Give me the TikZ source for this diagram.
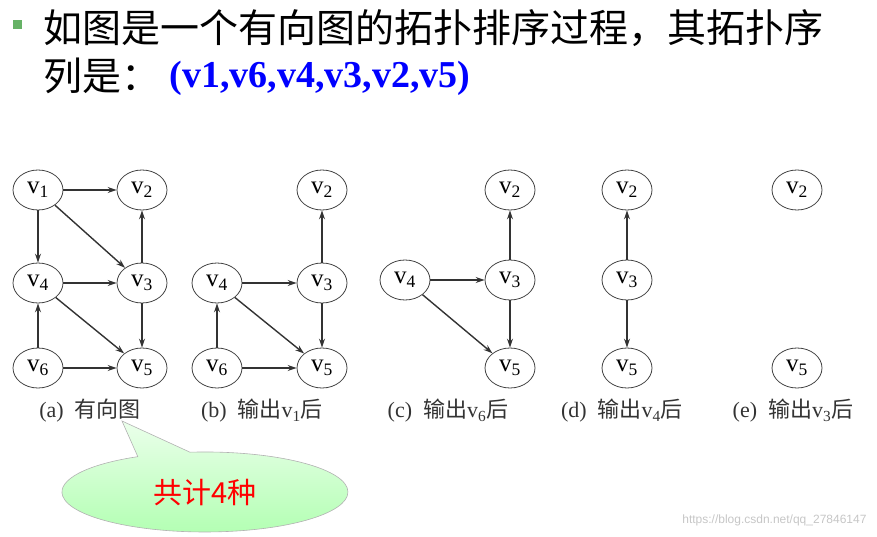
\documentclass[tikz,border=0pt]{standalone}
\usepackage{fontspec}
\setmainfont{Liberation Serif}
\newfontfamily\cjk{Noto Sans CJK SC}
\newfontfamily\wmfont{Liberation Sans}
\usetikzlibrary{shapes.geometric,arrows.meta}
\newcommand{\vv}[1]{v\textsubscript{#1}}
\begin{document}
\begin{tikzpicture}[x=1pt,y=-1pt,
 vx/.style={ellipse,draw=black!75,line width=0.8pt,minimum width=50pt,minimum height=40pt,inner sep=0pt,font=\fontsize{25}{25}\selectfont},
 ar/.style={-{Stealth[length=9pt,width=6pt]},draw=black!80,line width=1.4pt},
 captxt/.style={font=\fontsize{22}{22}\selectfont,text=black!80}]
\useasboundingbox (0,0) rectangle (877,537);
\fill[green!50!black!60] (13,20) rectangle (22,29);
\node[anchor=west,font=\cjk\fontsize{39}{39}\selectfont] (t1) at (40,28) {如图是一个有向图的拓扑排序过程，其拓扑序};
\node[anchor=west,font=\cjk\fontsize{39}{39}\selectfont] (t2) at (40,76) {列是：};
\node[anchor=west,font=\bfseries\fontsize{38}{38}\selectfont,text=blue] (t3) at (166,78) {(v1,v6,v4,v3,v2,v5)};
% (a)
\node[vx] (a1) at (38,190) {\vv1};
\node[vx] (a2) at (142,190) {\vv2};
\node[vx] (a4) at (38,283) {\vv4};
\node[vx] (a3) at (142,283) {\vv3};
\node[vx] (a6) at (38,368) {\vv6};
\node[vx] (a5) at (142,368) {\vv5};
\draw[ar] (a1)--(a2); \draw[ar] (a1)--(a4); \draw[ar] (a1)--(a3);
\draw[ar] (a3)--(a2); \draw[ar] (a4)--(a3); \draw[ar] (a4)--(a5);
\draw[ar] (a3)--(a5); \draw[ar] (a6)--(a4); \draw[ar] (a6)--(a5);
% (b)
\node[vx] (b2) at (322,190) {\vv2};
\node[vx] (b4) at (217,283) {\vv4};
\node[vx] (b3) at (322,283) {\vv3};
\node[vx] (b6) at (217,368) {\vv6};
\node[vx] (b5) at (322,368) {\vv5};
\draw[ar] (b3)--(b2); \draw[ar] (b4)--(b3); \draw[ar] (b4)--(b5);
\draw[ar] (b3)--(b5); \draw[ar] (b6)--(b4); \draw[ar] (b6)--(b5);
% (c)
\node[vx] (c2) at (510,190) {\vv2};
\node[vx] (c4) at (405,280) {\vv4};
\node[vx] (c3) at (510,280) {\vv3};
\node[vx] (c5) at (510,368) {\vv5};
\draw[ar] (c3)--(c2); \draw[ar] (c4)--(c3); \draw[ar] (c4)--(c5); \draw[ar] (c3)--(c5);
% (d)
\node[vx] (d2) at (627,190) {\vv2};
\node[vx] (d3) at (627,280) {\vv3};
\node[vx] (d5) at (627,368) {\vv5};
\draw[ar] (d3)--(d2); \draw[ar] (d3)--(d5);
% (e)
\node[vx] (e2) at (797,190) {\vv2};
\node[vx] (e5) at (797,368) {\vv5};
% captions
\node[captxt] (ca) at (90,411) {(a)\ \ {\cjk 有向图}};
\node[captxt] (cb) at (262,411) {(b)\ \ {\cjk 输出}\vv1{\cjk 后}};
\node[captxt] (cc) at (448,411) {(c)\ \ {\cjk 输出}\vv6{\cjk 后}};
\node[captxt] (cd) at (622,411) {(d)\ \ {\cjk 输出}\vv4{\cjk 后}};
\node[captxt] (ce) at (793,411) {(e)\ \ {\cjk 输出}\vv3{\cjk 后}};
% callout
\shade[top color=green!8,bottom color=green!30,draw=gray!60,line width=0.6pt]
 (122,421) -- (190,452.2) arc[start angle=-96,end angle=242,x radius=143,y radius=40] -- cycle;
\node[font=\cjk\fontsize{29}{29}\selectfont,text=red] (cl) at (205,493) {共计4种};
\node[anchor=east,font=\wmfont\fontsize{12}{12}\selectfont,text=gray!45] (wm) at (870,520) {https://blog.csdn.net/qq\_27846147};
\end{tikzpicture}
\end{document}
